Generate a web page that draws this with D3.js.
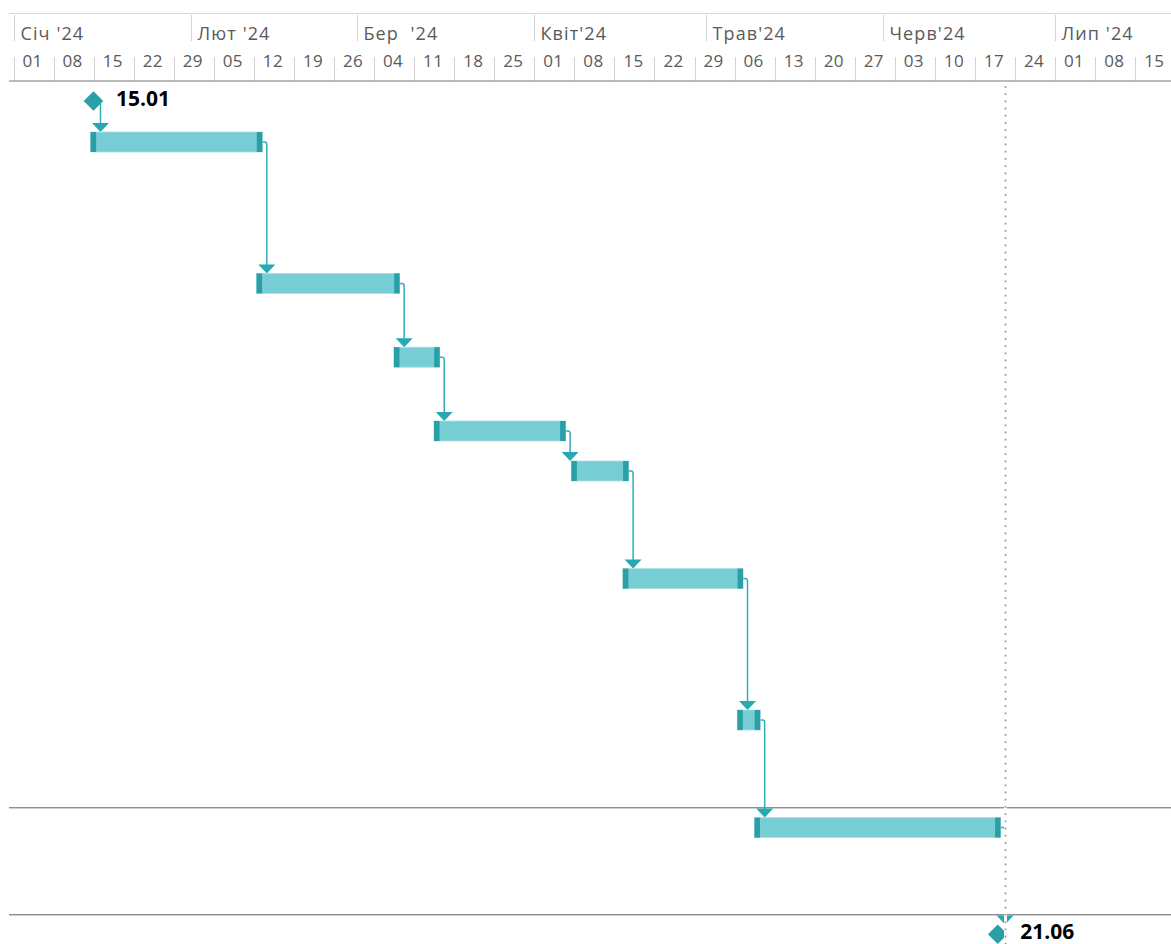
<!DOCTYPE html>
<html lang="uk">
<head>
<meta charset="utf-8">
<title>Графік робіт</title>
<script src="https://cdn.jsdelivr.net/npm/d3@7"></script>
<style>
  html, body { margin: 0; padding: 0; background: #ffffff; }
  svg { display: block; }
  .tier text { font-family: "Open Sans", "Noto Sans", sans-serif; fill: #5a5a5a; }
  .ms-label { font-family: "Open Sans", "Noto Sans", sans-serif; font-weight: 700; fill: #000; }
</style>
</head>
<body>
<svg id="chart" width="1171" height="944"></svg>
<script>
// Timescale
const timelineStart = "2024-01-01";
const timelineEnd = "2024-07-22";
const monthLabels = ["Січ '24", "Лют '24", "Бер  '24", "Квіт'24", "Трав'24", "Черв'24", "Лип '24"];

// Tasks (rows 1..8): start and finish dates (finish inclusive)
const taskStarts   = ["2024-01-15", "2024-02-13", "2024-03-08", "2024-03-15", "2024-04-08", "2024-04-17", "2024-05-07", "2024-05-10"];
const taskFinishes = ["2024-02-13", "2024-03-08", "2024-03-15", "2024-04-06", "2024-04-17", "2024-05-07", "2024-05-10", "2024-06-21"];

// Milestones: project start (row 0) and project finish (row 9)
const milestoneDates = ["2024-01-15", "2024-06-21"];
const milestoneRows = [0, 9];

// Number of text lines in each table row (rows 0..9)
const rowLines = [1, 4, 2, 2, 1, 3, 4, 3, 3, 1];
const selectedRow = 8;

// ---- layout ----
const W = 1171, H = 944;
const headerTop = 13, headerBottom = 81;
const bodyTop = 82;
const lineHeight = 33.8, rowPad = 6.2;
const barOffset = 10, barHeight = 20, capWidth = 5.5;
const msOffset = 19, msHalf = 9.8;

const COLORS = {
  bar: "#77cdd4",
  barEdge: "#a9dfe4",
  cap: "#2a9fa6",
  link: "#2fb0ba",
  arrow: "#27a8b2",
  diamond: "#2a9fa6",
  gridDark: "#8e8e8e",
  gridLight: "#cfcfcf"
};

const parse = d3.utcParse("%Y-%m-%d");
const DAY = 24 * 3600 * 1000;

const x = d3.scaleUtc()
  .domain([parse(timelineStart), parse(timelineEnd)])
  .range([10.5, 10.5 + 203 * 5.723]);

// Row tops from line counts
const rowHeights = rowLines.map(n => rowPad + lineHeight * n);
const rowTops = [];
rowHeights.reduce((acc, h, i) => { rowTops[i] = acc; return acc + h; }, bodyTop);

const svg = d3.select("#chart");
svg.append("rect").attr("width", W).attr("height", H).attr("fill", "#fff");

// ---- timescale header ----
const header = svg.append("g").attr("class", "tier");
const sepX = d => Math.round(x(d)) + 3.5;

header.append("line")
  .attr("x1", 9).attr("x2", W).attr("y1", headerTop + 0.5).attr("y2", headerTop + 0.5)
  .attr("stroke", "#d6d6d6").attr("stroke-width", 1);

const months = d3.utcMonth.range(parse(timelineStart), parse(timelineEnd));
header.selectAll(".month-sep").data(months).join("line")
  .attr("class", "month-sep")
  .attr("x1", sepX).attr("x2", sepX)
  .attr("y1", 15).attr("y2", 41)
  .attr("stroke", "#d3d3d3").attr("stroke-width", 1);

header.selectAll(".month-label").data(months).join("text")
  .attr("class", "month-label")
  .attr("x", d => sepX(d) + 6)
  .attr("y", 39.5)
  .attr("font-size", 18)
  .attr("letter-spacing", 1.1)
  .style("white-space", "pre")
  .text((d, i) => monthLabels[i]);

const weeks = d3.utcMonday.range(parse(timelineStart), parse(timelineEnd));
const weekFmt = d3.utcFormat("%d");
header.selectAll(".week-sep").data(weeks).join("line")
  .attr("class", "week-sep")
  .attr("x1", sepX).attr("x2", sepX)
  .attr("y1", 57).attr("y2", 81)
  .attr("stroke", "#d3d3d3").attr("stroke-width", 1);

header.selectAll(".week-label").data(weeks).join("text")
  .attr("class", "week-label")
  .attr("x", d => (x(d) + x(new Date(+d + 7 * DAY))) / 2 + 2)
  .attr("y", 67)
  .attr("text-anchor", "middle")
  .attr("font-size", 17)
  .attr("letter-spacing", 0.3)
  .text(d => weekFmt(d));

header.append("line")
  .attr("x1", 9).attr("x2", W).attr("y1", headerBottom).attr("y2", headerBottom)
  .attr("stroke", "#a3a3a3").attr("stroke-width", 1.6);

// ---- selected row borders ----
const selTop = rowTops[selectedRow], selBottom = rowTops[selectedRow] + rowHeights[selectedRow];
[selTop, selBottom].forEach(y => {
  const yy = Math.round(y) - 0.5;
  svg.append("line").attr("x1", 9).attr("x2", W).attr("y1", yy).attr("y2", yy)
    .attr("stroke", COLORS.gridDark).attr("stroke-width", 1);
  svg.append("line").attr("x1", 9).attr("x2", W).attr("y1", yy + 1).attr("y2", yy + 1)
    .attr("stroke", COLORS.gridLight).attr("stroke-width", 1);
});

// ---- items (milestones and tasks in row order) ----
const tasks = taskStarts.map((s, i) => ({
  type: "task",
  row: i + 1,
  start: parse(s),
  end: new Date(+parse(taskFinishes[i]) + DAY)
}));
const milestones = milestoneDates.map((d, i) => ({
  type: "milestone",
  row: milestoneRows[i],
  date: parse(d)
}));
const items = [milestones[0], ...tasks, milestones[1]];

function barTop(t) { return rowTops[t.row] + barOffset; }
function msCenter(m) { return rowTops[m.row] + msOffset; }
// a milestone diamond sits in the middle of its day
function msX(m) { return x(new Date(+m.date + DAY / 2)); }

// Link anchors
function sourceAnchor(it) {
  if (it.type === "task") return { x: x(it.end), y: barTop(it) + barHeight / 2, dx: 4.5 };
  return { x: msX(it), y: msCenter(it), dx: 7 };
}
function targetTop(it) {
  return it.type === "task" ? barTop(it) : msCenter(it) - msHalf;
}

const links = d3.pairs(items);
const linkLayer = svg.append("g");
links.forEach(([a, b]) => {
  const s = sourceAnchor(a);
  const vx = s.x + s.dx;
  const tip = targetTop(b);
  const path = d3.path();
  path.moveTo(s.x, s.y);
  path.lineTo(vx - 2, s.y);
  path.quadraticCurveTo(vx, s.y, vx, s.y + 3);
  path.lineTo(vx, tip - 8);
  linkLayer.append("path")
    .attr("d", path.toString())
    .attr("fill", "none")
    .attr("stroke", COLORS.link)
    .attr("stroke-width", 1.5);
  linkLayer.append("path")
    .attr("d", `M${vx - 8.5},${tip - 9}L${vx + 8.5},${tip - 9}L${vx},${tip}Z`)
    .attr("fill", COLORS.arrow);
});

// Task bars
const barLayer = svg.append("g");
const bars = barLayer.selectAll(".task").data(tasks).join("g").attr("class", "task");
bars.append("rect")
  .attr("x", d => x(d.start))
  .attr("y", d => barTop(d))
  .attr("width", d => x(d.end) - x(d.start))
  .attr("height", barHeight)
  .attr("fill", COLORS.bar)
  .attr("stroke", COLORS.barEdge)
  .attr("stroke-width", 0.8);
bars.append("rect")
  .attr("x", d => x(d.start))
  .attr("y", d => barTop(d))
  .attr("width", capWidth)
  .attr("height", barHeight)
  .attr("fill", COLORS.cap);
bars.append("rect")
  .attr("x", d => x(d.end) - capWidth)
  .attr("y", d => barTop(d))
  .attr("width", capWidth)
  .attr("height", barHeight)
  .attr("fill", COLORS.cap);

// Milestones
const msFmt = d3.utcFormat("%d.%m");
const ms = svg.append("g").selectAll(".ms").data(milestones).join("g").attr("class", "ms");
ms.append("path")
  .attr("d", d => {
    const cx = msX(d), cy = msCenter(d);
    return `M${cx},${cy - msHalf}L${cx + msHalf},${cy}L${cx},${cy + msHalf}L${cx - msHalf},${cy}Z`;
  })
  .attr("fill", COLORS.diamond);
ms.append("text")
  .attr("class", "ms-label")
  .attr("x", d => msX(d) + 22.5)
  .attr("y", d => msCenter(d) + 5)
  .attr("font-size", 21)
  .text(d => msFmt(d.date));

// Project finish line (dotted)
const finishX = Math.round(x(new Date(+milestones[1].date + DAY)) + 4.5) + 0.5;
svg.append("line")
  .attr("x1", finishX).attr("x2", finishX).attr("y1", bodyTop + 2).attr("y2", H)
  .attr("stroke", "#ffffff").attr("stroke-width", 3);
svg.append("line")
  .attr("x1", finishX).attr("x2", finishX).attr("y1", bodyTop + 4).attr("y2", H)
  .attr("stroke", "#9a9a9a").attr("stroke-width", 1.8)
  .attr("stroke-dasharray", "1.8 5.4");
</script>
</body>
</html>
